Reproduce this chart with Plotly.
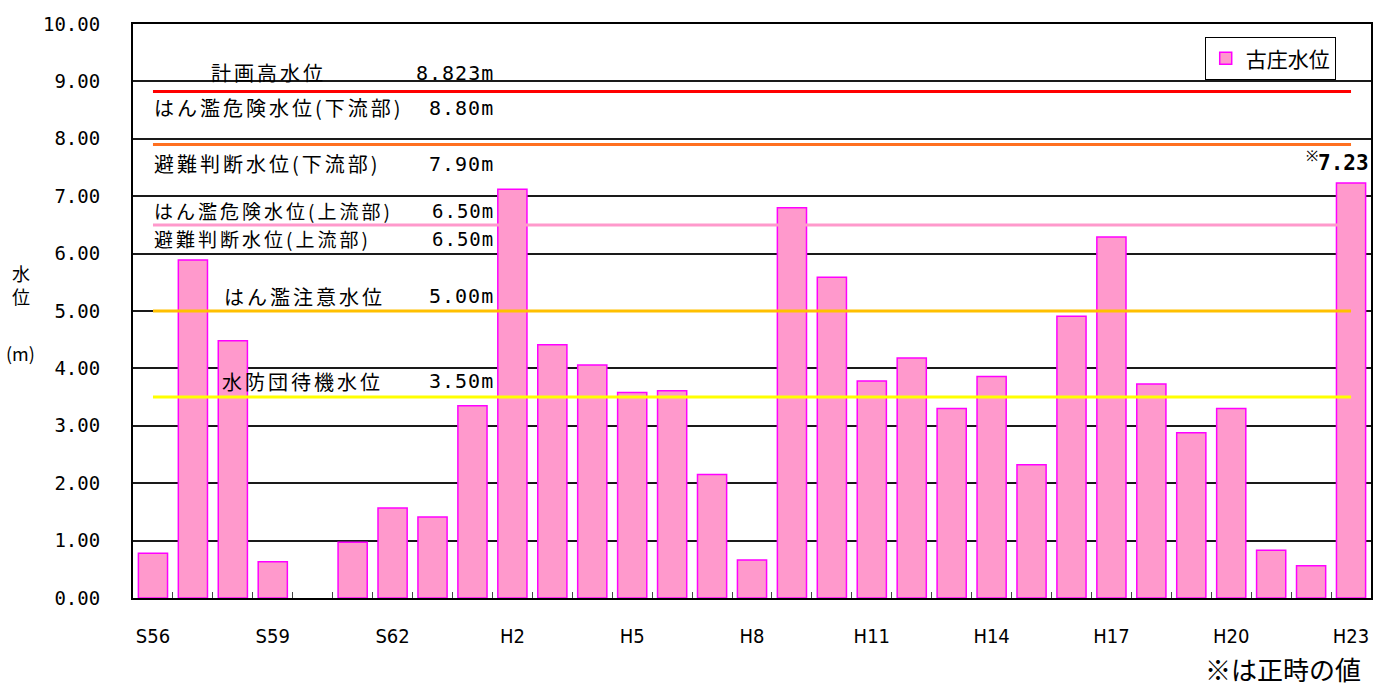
import plotly.graph_objects as go

# ---- data ----
years = ["S56", "S57", "S58", "S59", "S60", "S61", "S62", "S63",
         "H1", "H2", "H3", "H4", "H5", "H6", "H7", "H8", "H9", "H10",
         "H11", "H12", "H13", "H14", "H15", "H16", "H17", "H18", "H19",
         "H20", "H21", "H22", "H23"]
water_level = [0.78, 5.89, 4.48, 0.63, None, 0.97, 1.57, 1.41,
               3.35, 7.12, 4.41, 4.06, 3.58, 3.61, 2.15, 0.66, 6.80, 5.59,
               3.78, 4.18, 3.30, 3.86, 2.32, 4.91, 6.29, 3.73, 2.88,
               3.30, 0.83, 0.56, 7.23]
shown_labels = ["S56", "S59", "S62", "H2", "H5", "H8", "H11", "H14", "H17", "H20", "H23"]

ref_levels = [8.823, 7.90, 6.50, 5.00, 3.50]
ref_colors = ["#FF0000", "#FF7020", "#FF99CC", "#FFC000", "#FFFF00"]

ref_names = ["計画高水位", "はん濫危険水位(下流部)", "避難判断水位(下流部)",
             "はん濫危険水位(上流部)", "避難判断水位(上流部)",
             "はん濫注意水位", "水防団待機水位"]
ref_values_text = ["8.823m", "8.80m", "7.90m", "6.50m", "6.50m", "5.00m", "3.50m"]
ref_label_levels = [8.823, 8.823, 7.90, 6.50, 6.50, 5.00, 3.50]

peak_note = "7.23"

JP = "Noto Sans CJK JP"
MONO = "DejaVu Sans Mono"

fig = go.Figure()

fig.add_trace(go.Bar(
    x=years, y=water_level, name="古庄水位",
    marker=dict(color="#FF99CC", line=dict(color="#FF00FF", width=1.5)),
))

for lv, col in zip(ref_levels, ref_colors):
    fig.add_trace(go.Scatter(
        x=[years[0], years[-1]], y=[lv, lv], mode="lines",
        line=dict(color=col, width=3), showlegend=False, hoverinfo="skip",
    ))

label_shift = [19, -16, -19, 14, -14, 15, 16]
label_x = [0.0614, 0.0153, 0.0153, 0.0153, 0.0153, 0.0719, 0.0703]
label_size = [20, 20, 20, 19, 19, 20, 20]
for name, vt, lv, ys, lx, fs in zip(ref_names, ref_values_text, ref_label_levels,
                                    label_shift, label_x, label_size):
    fig.add_annotation(x=lx, xref="paper", y=lv, yref="y", yshift=ys,
                       text='<span style="letter-spacing:3px">' + name + '</span>',
                       showarrow=False, xanchor="left", yanchor="middle",
                       font=dict(family=JP, size=fs, color="#000"))
    fig.add_annotation(x=0.2935, xref="paper", y=lv, yref="y", yshift=ys,
                       text='<span style="letter-spacing:1px">' + vt + '</span>',
                       showarrow=False, xanchor="right", yanchor="middle",
                       font=dict(family=MONO, size=fs, color="#000"))

# peak note
fig.add_annotation(x=years[-1], y=water_level[-1], xref="x", yref="y",
                   text="<sup>※</sup><b>" + peak_note + "</b>", showarrow=False,
                   xanchor="center", yanchor="bottom", xshift=-14, yshift=6,
                   font=dict(family=MONO, size=21, color="#000"))

# y-axis title
fig.add_annotation(x=-0.0905, xref="paper", y=0.5455, yref="paper",
                   text="水<br>位", showarrow=False,
                   xanchor="center", yanchor="middle",
                   font=dict(family=JP, size=18, color="#000"))
fig.add_annotation(x=-0.0905, xref="paper", y=0.4275, yref="paper",
                   text="(m)", showarrow=False,
                   xanchor="center", yanchor="middle",
                   font=dict(family=JP, size=18, color="#000"))

# footnote
fig.add_annotation(x=0.9935, xref="paper", y=-0.122, yref="paper",
                   text="※は正時の値", showarrow=False, xanchor="right", yanchor="middle",
                   font=dict(family=JP, size=26, color="#000"))

fig.update_layout(
    width=1374, height=686,
    margin=dict(l=133, r=3, t=24, b=88),
    paper_bgcolor="white", plot_bgcolor="white",
    bargap=0.27,
    showlegend=True,
    legend=dict(x=0.9715, y=0.977, xanchor="right", yanchor="top",
                bgcolor="white", bordercolor="#000", borderwidth=1,
                font=dict(family=JP, size=21, color="#000"),
                itemwidth=30),
    xaxis=dict(
        type="category", range=[-0.5, len(years) - 0.5],
        tickvals=years,
        ticktext=[y if y in shown_labels else "" for y in years],
        tickangle=0, automargin=False,
        tickson="boundaries", ticks="inside", ticklen=6, tickcolor="#444", tickwidth=1,
        showline=True, linecolor="#000", linewidth=2, mirror=True,
        showgrid=False, ticklabelstandoff=19,
        tickfont=dict(family="DejaVu Sans Condensed, Liberation Sans Narrow, DejaVu Sans", size=20, color="#000"),
    ),
    yaxis=dict(
        range=[0, 10], dtick=1, tickformat=".2f", automargin=False,
        showline=True, linecolor="#000", linewidth=2, mirror=True,
        showgrid=True, gridcolor="#1a1a1a", gridwidth=2,
        zeroline=False, ticks="", ticklabelstandoff=27,
        tickfont=dict(family=MONO, size=19, color="#000"),
    ),
)

fig.write_html("out.html")
